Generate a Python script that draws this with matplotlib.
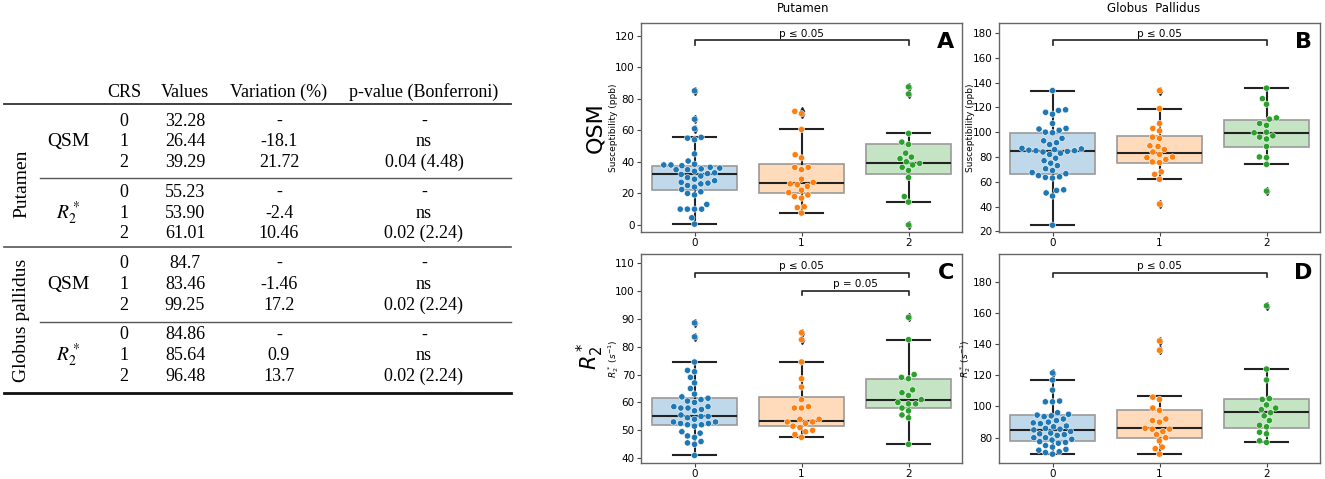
import matplotlib
matplotlib.use('Agg')
import matplotlib.pyplot as plt
import seaborn as sns
import pandas as pd
from matplotlib.colors import to_rgba

# ---------------- table data ----------------
crs_levels = ['0', '1', '2']
table_values = ['32.28', '26.44', '39.29', '55.23', '53.90', '61.01',
                '84.7', '83.46', '99.25', '84.86', '85.64', '96.48']
table_variation = ['-', '-18.1', '21.72', '-', '-2.4', '10.46',
                   '-', '-1.46', '17.2', '-', '0.9', '13.7']
table_pvalues = ['-', 'ns', '0.04 (4.48)', '-', 'ns', '0.02 (2.24)',
                 '-', 'ns', '0.02 (2.24)', '-', 'ns', '0.02 (2.24)']
table_header = ['CRS', 'Values', 'Variation (%)', 'p-value (Bonferroni)']
table_methods = ['QSM', '$R_2^*$', 'QSM', '$R_2^*$']
table_regions = ['Putamen', 'Globus pallidus']

# ---------------- plot data ----------------
groups = ['0', '1', '2']
colors = ['#1f77b4', '#ff7f0e', '#2ca02c']

# Putamen QSM (ppb)
put_qsm_0 = [85, 67, 61, 55.5, 55, 54, 45, 40.5, 38.5, 38, 38, 37.5, 36.5, 36, 35.5,
             35, 35, 34, 33, 32.5, 32, 31, 30, 29, 28, 27, 26.5, 26, 25, 24, 22.5,
             21, 20, 19, 13, 10, 10, 10, 10, 4.5, 0.5]
put_qsm_1 = [72, 70.5, 60.5, 44.5, 42.5, 36.5, 36.5, 35, 29, 27, 26, 25.5, 24.5, 22,
             20.5, 19, 18, 17, 11.5, 11, 7.5]
put_qsm_2 = [87.5, 83, 58, 52.5, 51, 45.5, 43, 42, 40, 39, 38, 36.5, 34.5, 30, 18,
             14.5, 0]
put_qsm_q1 = [22, 20, 32.5]
put_qsm_med = [32, 26.5, 39]
put_qsm_q3 = [37.5, 38.5, 51]
put_qsm_lo = [0.5, 7.5, 14.5]
put_qsm_hi = [55.5, 60.5, 58]
put_qsm_out = [[61, 67, 85], [72, 70.5], [83, 87.5, 0]]

# Globus pallidus QSM (ppb)
gp_qsm_0 = [133.5, 118, 117.5, 116, 114.5, 107, 103, 102.5, 101.5, 100, 99.5, 95, 93,
            91.5, 90, 87, 86.5, 86, 85.5, 85, 85, 84.5, 84, 83, 82, 79, 77, 75, 73,
            70.5, 69, 67.5, 66.5, 65, 64, 63.5, 63, 53.5, 53, 51, 48.5, 25]
gp_qsm_1 = [133.5, 119, 107, 103, 101, 96, 95, 89, 88.5, 86, 84, 82, 80, 79.5, 78,
            76, 75.5, 68, 66, 62, 42]
gp_qsm_2 = [135.5, 127, 122.5, 111.5, 110.5, 107, 105.5, 100, 99.5, 97, 96, 94.5,
            88.5, 80, 79.5, 74, 52.5]
gp_qsm_q1 = [66.5, 75.5, 88]
gp_qsm_med = [85, 83.5, 99.5]
gp_qsm_q3 = [99.5, 96.5, 110]
gp_qsm_lo = [25, 62, 74]
gp_qsm_hi = [133, 119, 135.5]
gp_qsm_out = [[], [133.5, 42], [52.5]]

# Putamen R2* (s^-1)
put_r2_0 = [88.5, 83.5, 74.5, 71.5, 71, 69, 67, 65, 63, 62, 61.5, 61, 60.5, 60, 58.5,
            58.5, 58, 58, 57.5, 57, 55.5, 55, 55, 54.5, 54, 53, 53, 52.5, 52.5, 52,
            52, 51.5, 49.5, 49, 48, 47.5, 46, 45.5, 45, 41]
put_r2_1 = [85, 82.5, 74.5, 68.5, 65.5, 61, 58.5, 58, 58, 54, 54, 53, 53, 52.5, 51.5,
            51, 50, 49.5, 48.5, 47.5]
put_r2_2 = [90.5, 82.5, 70, 69, 68.5, 64.5, 63.5, 62.5, 61, 60, 59.5, 59.5, 58, 57,
            55.5, 54.5, 45]
put_r2_q1 = [52, 51.5, 58]
put_r2_med = [55, 53.5, 61]
put_r2_q3 = [61.5, 62, 68.5]
put_r2_lo = [41, 47.5, 45]
put_r2_hi = [74.5, 74.5, 82.5]
put_r2_out = [[83.5, 88.5], [82.5, 85], [90.5]]

# Globus pallidus R2* (s^-1)
gp_r2_0 = [121.5, 117, 110.5, 103.5, 103, 103, 96, 95, 94.5, 94, 93.5, 92, 91, 90,
           89.5, 89, 87.5, 87, 86, 85.5, 85, 84, 83, 82.5, 82, 81.5, 80, 80, 79,
           78.5, 77.5, 77, 76.5, 75, 74, 72.5, 72, 71, 70.5, 69.5]
gp_r2_1 = [142, 136, 106, 104.5, 99, 97.5, 92, 91, 90, 86, 85.5, 85.5, 84, 82, 80,
           78, 74, 73, 69.5]
gp_r2_2 = [164.5, 124, 117, 105, 104.5, 101, 99, 98, 96, 94, 91, 88, 87, 83.5, 82.5,
           78, 77]
gp_r2_q1 = [78, 80, 86.5]
gp_r2_med = [85, 86, 96.5]
gp_r2_q3 = [94.5, 97.5, 105]
gp_r2_lo = [69.5, 69.5, 77]
gp_r2_hi = [117, 106.5, 124]
gp_r2_out = [[121.5], [136, 142], [164.5]]


def draw_panel(ax, series, q1, med, q3, lo, hi, outliers, ylim, yticks, ylabel,
               label_x, letter, brackets):
    stats = []
    for i in range(3):
        stats.append({'q1': q1[i], 'med': med[i], 'q3': q3[i],
                      'whislo': lo[i], 'whishi': hi[i], 'fliers': outliers[i]})
    bp = ax.bxp(stats, positions=[0, 1, 2], widths=0.8, capwidths=0.4,
                patch_artist=True, manage_ticks=False,
                boxprops=dict(edgecolor='#9a9a9a', linewidth=1.2),
                whiskerprops=dict(color='#222222', linewidth=1.5),
                capprops=dict(color='#222222', linewidth=1.5),
                medianprops=dict(color='#222222', linewidth=1.5),
                flierprops=dict(marker='d', markerfacecolor='#222222',
                                markeredgecolor='#222222', markersize=4))
    for patch, c in zip(bp['boxes'], colors):
        patch.set_facecolor(to_rgba(c, 0.28))

    df = pd.DataFrame({
        'CRS': [g for g, s in zip(groups, series) for _ in s],
        'val': [v for s in series for v in s],
    })
    sns.swarmplot(data=df, x='CRS', y='val', hue='CRS', order=groups,
                  hue_order=groups, palette=colors, size=4.5, ax=ax,
                  legend=False, edgecolor='white', linewidth=0.4, zorder=3)

    ax.set_xlim(-0.5, 2.5)
    ax.set_ylim(*ylim)
    ax.set_yticks(yticks)
    ax.set_xticks([0, 1, 2])
    ax.set_xticklabels(groups)
    ax.set_xlabel('')
    ax.set_ylabel(ylabel, fontsize=6.5)
    ax.yaxis.set_label_coords(label_x, 0.5)
    ax.tick_params(labelsize=7.5, length=3, width=0.8, color='#444444', pad=1.5)
    for sp in ax.spines.values():
        sp.set_color('#666666')
        sp.set_linewidth(1.0)

    yr = ylim[1] - ylim[0]
    for x1, x2, y, txt in brackets:
        h = 0.02 * yr
        ax.plot([x1, x1, x2, x2], [y - h, y, y, y - h], color='#222222', lw=1.2)
        ax.text((x1 + x2) / 2, y + 0.008 * yr, txt, ha='center', va='bottom',
                fontsize=7.5)
    ax.text(0.975, 0.955, letter, transform=ax.transAxes, ha='right', va='top',
            fontsize=16, fontweight='bold')


fig = plt.figure(figsize=(13.25, 4.79), dpi=100)
W, H = 1325.0, 479.0


def box(l, t, r, b):
    return [l / W, 1 - b / H, (r - l) / W, (b - t) / H]


axA = fig.add_axes(box(641, 23, 962, 232))
axB = fig.add_axes(box(999, 23, 1320, 232))
axC = fig.add_axes(box(641, 254, 962, 463))
axD = fig.add_axes(box(999, 254, 1320, 463))

le = '\u2264'
draw_panel(axA, [put_qsm_0, put_qsm_1, put_qsm_2], put_qsm_q1, put_qsm_med,
           put_qsm_q3, put_qsm_lo, put_qsm_hi, put_qsm_out, (-4.5, 128),
           range(0, 121, 20), 'Susceptibility (ppb)', -0.072, 'A',
           [(0, 2, 117, 'p ' + le + ' 0.05')])
draw_panel(axB, [gp_qsm_0, gp_qsm_1, gp_qsm_2], gp_qsm_q1, gp_qsm_med,
           gp_qsm_q3, gp_qsm_lo, gp_qsm_hi, gp_qsm_out, (19.5, 188),
           range(20, 181, 20), 'Susceptibility (ppb)', -0.075, 'B',
           [(0, 2, 174, 'p ' + le + ' 0.05')])
draw_panel(axC, [put_r2_0, put_r2_1, put_r2_2], put_r2_q1, put_r2_med,
           put_r2_q3, put_r2_lo, put_r2_hi, put_r2_out, (38.3, 113.2),
           range(40, 111, 10), '$R_2^*\\ (s^{-1})$', -0.062, 'C',
           [(0, 2, 106.5, 'p ' + le + ' 0.05'), (1, 2, 100, 'p = 0.05')])
draw_panel(axD, [gp_r2_0, gp_r2_1, gp_r2_2], gp_r2_q1, gp_r2_med,
           gp_r2_q3, gp_r2_lo, gp_r2_hi, gp_r2_out, (63.8, 197.7),
           range(80, 181, 20), '$R_2^*\\ (s^{-1})$', -0.08, 'D',
           [(0, 2, 185.8, 'p ' + le + ' 0.05')])

# column titles and row labels
fig.text(803 / W, 1 - 9 / H, 'Putamen', ha='center', va='center', fontsize=8.5)
fig.text(1154 / W, 1 - 9 / H, 'Globus  Pallidus', ha='center', va='center',
         fontsize=8.5)
fig.text(595 / W, 1 - 128 / H, 'QSM', ha='center', va='center', fontsize=16,
         rotation=90)
fig.text(590 / W, 1 - 356 / H, '$R^*_2$', ha='center', va='center', fontsize=15,
         rotation=90)

# ---------------- table on the left ----------------
tab = fig.add_axes([0, 0, 1, 1], zorder=-1)
tab.set_xlim(0, W)
tab.set_ylim(H, 0)
tab.axis('off')
serif = 'Liberation Serif'
fs = 13
col_x = [124, 185, 279, 424]
for x, h in zip(col_x, table_header):
    tab.text(x, 92, h, ha='center', va='center', fontsize=fs, family=serif)

tab.plot([4, 511], [104, 104], color='#333333', lw=1.3)
tab.plot([40, 511], [178, 178], color='#555555', lw=1.0)
tab.plot([4, 511], [247, 247], color='#555555', lw=1.2)
tab.plot([40, 511], [322, 322], color='#555555', lw=1.0)
tab.plot([4, 511], [393, 393], color='#111111', lw=2.0)

for g in range(4):
    y0 = 121 + g * 71.3
    for r in range(3):
        i = g * 3 + r
        y = y0 + r * 20.7
        tab.text(col_x[0], y, crs_levels[r], ha='center', va='center', fontsize=fs,
                 family=serif)
        tab.text(col_x[1], y, table_values[i], ha='center', va='center',
                 fontsize=fs, family=serif)
        tab.text(col_x[2], y, table_variation[i], ha='center', va='center',
                 fontsize=fs, family=serif)
        tab.text(col_x[3], y, table_pvalues[i], ha='center', va='center',
                 fontsize=fs, family=serif)
    tab.text(68, y0 + 20.7, table_methods[g], ha='center', va='center',
             fontsize=fs + 1, family=serif, math_fontfamily='stix')

tab.text(22, 184, table_regions[0], ha='center', va='center', fontsize=fs + 1,
         family=serif, rotation=90)
tab.text(22, 320, table_regions[1], ha='center', va='center', fontsize=fs + 1,
         family=serif, rotation=90)

fig.savefig('out.png', dpi=100)
